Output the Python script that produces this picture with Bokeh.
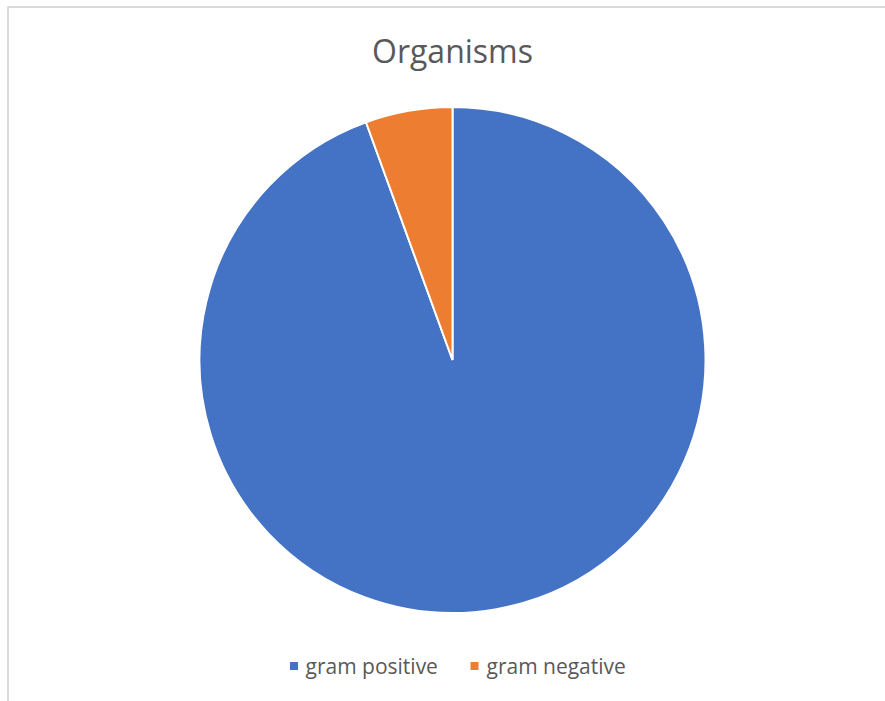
import math
from bokeh.plotting import figure
from bokeh.models import Range1d, ColumnDataSource
from bokeh.core.properties import value
from bokeh.embed import file_html
from bokeh.resources import INLINE

title = "Organisms"
categories = ["gram positive", "gram negative"]
counts = [17, 1]
colors = ["#4472C4", "#ED7D31"]

W, H = 885, 701
p = figure(width=W, height=H, output_backend="svg", toolbar_location=None,
           x_range=Range1d(0, W), y_range=Range1d(0, H), min_border=0)
p.axis.visible = False
p.grid.visible = False
p.outline_line_color = None
p.background_fill_color = "white"
p.border_fill_color = "white"

# chart frame (only left and top edges visible)
p.line(x=[7.5, 7.5, 900], y=[-10, H - 6.5, H - 6.5], line_color="#d9d9d9", line_width=2)

# pie: starts at 12 o'clock, runs clockwise
total = sum(counts)
starts, ends = [], []
cum = 0.0
for c in counts:
    before = cum
    cum += c
    starts.append(math.radians(90 - 360 * cum / total))
    ends.append(math.radians(90 - 360 * before / total))
cx, cy, r = 452, H - 359.5, 253
src = ColumnDataSource(dict(start=starts, end=ends, color=colors, name=categories))
p.wedge(x=cx, y=cy, radius=r, start_angle="start", end_angle="end",
        fill_color="color", line_color="white", line_width=2, source=src)

# title
p.text(x=[452], y=[H - 50], text=[title], text_font=value("Open Sans"),
       text_font_size="32px", text_color="#595959", text_align="center",
       text_baseline="middle")

# legend
leg_sq_x = [293.5, 474]
leg_tx_x = [305, 486]
p.scatter(x=leg_sq_x, y=[H - 665.5] * 2, marker="square", size=8,
          fill_color=colors, line_color=None)
p.text(x=leg_tx_x, y=[H - 665] * 2, text=categories, text_font=value("Open Sans"),
       text_font_size="21px", text_color="#595959", text_align="left",
       text_baseline="middle")

open("out.html", "w").write(file_html(p, INLINE))
